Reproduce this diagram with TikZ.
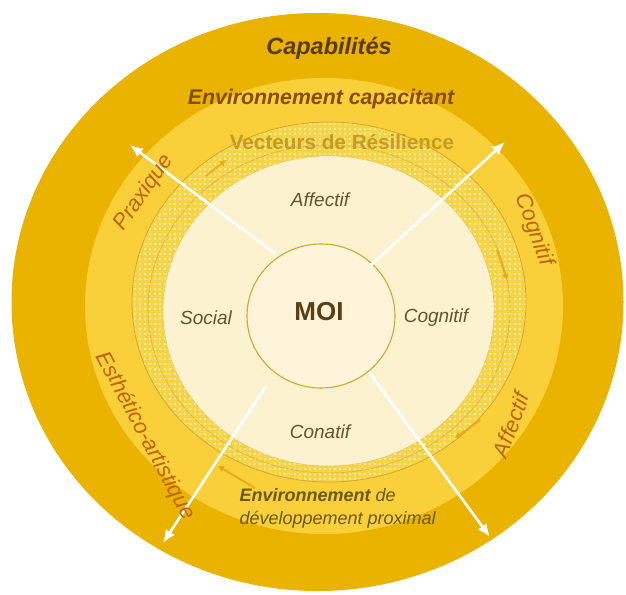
\documentclass[tikz,border=0pt]{standalone}
\usepackage{fontspec}
\setmainfont{Liberation Sans}
\usetikzlibrary{arrows.meta,patterns.meta}
\definecolor{outerc}{HTML}{E9B300}
\definecolor{lightc}{HTML}{F9D03A}
\definecolor{dotc}{HTML}{F6D448}
\definecolor{creamc}{HTML}{FDF2D0}
\definecolor{moic}{HTML}{FDF4D9}
\definecolor{linec}{HTML}{D6A62A}
\definecolor{capc}{HTML}{5A3A0C}
\definecolor{envc}{HTML}{8A4A0C}
\definecolor{vecc}{HTML}{C49C22}
\definecolor{innc}{HTML}{5E5535}
\definecolor{orngc}{HTML}{C0620E}
\definecolor{proxc}{HTML}{6A5818}
\definecolor{sarrc}{HTML}{E9A40C}
\begin{document}
\begin{tikzpicture}[x=1pt,y=-1pt,
  warrow/.style={draw=white, line width=2.6pt, -{Latex[length=13pt,width=11pt]}},
  sarrow/.style={draw=sarrc, line width=2pt, opacity=0.8, -{Triangle[length=6pt,width=6pt]}},
  inlab/.style={font=\itshape\fontsize{19}{21}\selectfont, text=innc},
  arclab/.style={font=\itshape\fontsize{22}{24}\selectfont, text=orngc},
  ringline/.style={draw=linec, line width=0.8pt}]
\useasboundingbox (0,0) rectangle (626,594);
\fill[white] (0,0) rectangle (626,594);
% rings
\fill[outerc] (317.5,302) ellipse [x radius=306pt, y radius=289pt];
\fill[lightc] (324,306) ellipse [x radius=239pt, y radius=228pt];
\fill[dotc] (329,302) ellipse [x radius=197pt, y radius=180pt];
\fill[pattern={Dots[distance=5pt,radius=0.9pt]}, pattern color=white] (329,302) ellipse [x radius=197pt, y radius=180pt];
\draw[ringline] (329,302) ellipse [x radius=197pt, y radius=180pt];
\draw[ringline, opacity=0.6] (329,309) ellipse [x radius=181pt, y radius=164pt];
\fill[creamc] (328.5,311) ellipse [x radius=165.5pt, y radius=155pt];
\draw[linec, line width=0.5pt, opacity=0.5] (328.5,311) ellipse [x radius=165.5pt, y radius=155pt];
\fill[moic] (321,316) ellipse [x radius=74pt, y radius=72pt];
\draw[linec, line width=1.1pt] (321,316) ellipse [x radius=74pt, y radius=72pt];
% white arrows
\coordinate (ulS) at (276,254); \coordinate (ulT) at (130,145);
\coordinate (urS) at (370,266); \coordinate (urT) at (505,142);
\coordinate (llS) at (266,386); \coordinate (llT) at (163,543);
\coordinate (lrS) at (369,372); \coordinate (lrT) at (490,537);
\draw[warrow] (ulS) -- (ulT);
\draw[warrow] (urS) -- (urT);
\draw[warrow] (llS) -- (llT);
\draw[warrow] (lrS) -- (lrT);
% small orange arrows
\coordinate (s1a) at (206,176); \coordinate (s1b) at (226,160);
\coordinate (s2a) at (497,250); \coordinate (s2b) at (507,280);
\coordinate (s3a) at (480,420); \coordinate (s3b) at (455,438);
\coordinate (s4a) at (255,488); \coordinate (s4b) at (218,466);
\draw[sarrow] (s1a) -- (s1b);
\draw[sarrow] (s2a) -- (s2b);
\draw[sarrow] (s3a) -- (s3b);
\draw[sarrow] (s4a) -- (s4b);
% texts
\node[font=\bfseries\itshape\fontsize{23.5}{25}\selectfont, text=capc] (cap) at (329,48) {Capabilités};
\node[font=\bfseries\itshape\fontsize{21.3}{23}\selectfont, text=envc] (envcap) at (321,99) {Environnement capacitant};
\node[font=\bfseries\fontsize{20.7}{22}\selectfont, text=vecc] (vec) at (342,142) {Vecteurs de Résilience};
\node[inlab] (aff) at (320,200) {Affectif};
\node[inlab] (soc) at (206,318) {Social};
\node[inlab] (cog) at (436,318) {Cognitif};
\node[inlab] (con) at (320,432) {Conatif};
\node[font=\bfseries\fontsize{26}{28}\selectfont, text=capc!80!innc] (moi) at (319,312) {MOI};
\node[arclab, rotate=55] (prax) at (144,193) {Praxique};
\node[arclab, rotate=-70] (cogn) at (534,230) {Cognitif};
\node[arclab, rotate=70] (affe) at (511,425) {Affectif};
\node[arclab, rotate=-62] (esth) at (145,436) {Esthético-artistique};
\node[font=\itshape\fontsize{18}{23}\selectfont, text=proxc, align=left, anchor=north west] (prox) at (236,485)
  {\textbf{Environnement} de\\développement proximal};
\end{tikzpicture}
\end{document}
